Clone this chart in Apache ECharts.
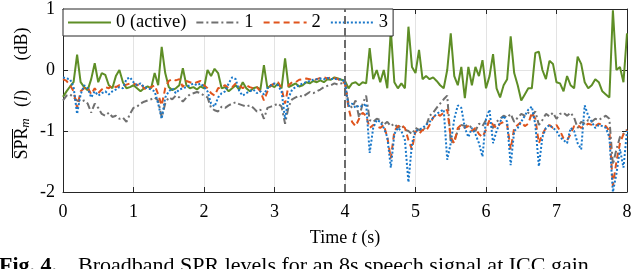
<!DOCTYPE html>
<html>
<head>
<meta charset="utf-8">
<script src="https://cdn.jsdelivr.net/npm/echarts@6/dist/echarts.min.js"></script>
<style>
html,body{margin:0;padding:0;background:#fff;}
#chart{width:640px;height:269px;}
</style>
</head>
<body>
<div id="chart"></div>
<script>
// Sampling of the time axis (s)
const timeStep = 0.05;
const xTicks = [0, 1, 2, 3, 4, 5, 6, 7, 8];
const yTicks = [-2, -1, 0, 1];
const seriesNames = ['0 (active)', '1', '2', '3'];
const changeTime = 4;

// Series values (dB), one value per 0.05 s from 0 to 8 s
const green = [
 -0.44,-0.35,-0.27,-0.2,0.25,-0.2,-0.28,-0.33,-0.15,0.11,-0.2,-0.05,-0.08,-0.25,-0.3,-0.1,0.0,-0.2,-0.3,-0.28,-0.25,
 -0.3,-0.35,-0.3,-0.27,-0.3,-0.05,-0.25,0.38,-0.05,-0.28,-0.33,-0.3,-0.25,0.03,-0.25,-0.3,-0.28,-0.32,-0.27,-0.3,
 0.0,-0.1,0.02,-0.05,-0.3,-0.28,-0.35,-0.3,-0.25,-0.32,-0.2,-0.3,-0.35,-0.3,-0.28,-0.32,0.08,-0.3,-0.25,-0.28,
 -0.22,-0.3,0.19,-0.28,-0.25,-0.22,-0.27,-0.25,-0.2,-0.22,-0.18,-0.2,-0.17,-0.2,-0.15,-0.16,-0.12,-0.14,-0.16,-0.18,
 -0.3,-0.22,-0.2,-0.25,-0.2,-0.22,0.36,-0.15,0.0,-0.2,0.0,-0.3,0.66,-0.2,-0.3,-0.22,-0.3,0.71,0.05,-0.05,
 0.33,-0.15,-0.1,-0.15,-0.12,-0.18,-0.25,-0.3,0.0,0.6,-0.1,-0.25,0.05,-0.46,0.05,-0.25,0.05,-0.1,0.16,-0.3,
 -0.1,0.26,-0.3,-0.45,-0.25,-0.15,0.55,-0.05,-0.25,-0.5,-0.4,-0.3,-0.3,0.28,0.3,0.0,-0.15,0.15,0.1,-0.2,
 -0.22,-0.35,-0.1,-0.25,-0.3,0.22,0.1,-0.2,-0.3,-0.25,-0.15,-0.2,-0.35,-0.4,-0.45,0.98,0.0,0.05,-0.2,0.6
];
const gray = [
 -0.5,-0.42,-0.4,-0.45,-0.5,-0.52,-0.5,-0.55,-0.7,-0.55,-0.62,-0.72,-0.75,-0.7,-0.77,-0.75,-0.8,-0.78,-0.85,-0.72,-0.62,
 -0.6,-0.55,-0.52,-0.5,-0.48,-0.45,-0.5,-0.78,-0.55,-0.45,-0.48,-0.42,-0.45,-0.52,-0.45,-0.4,-0.38,-0.36,-0.38,-0.42,
 -0.45,-0.62,-0.66,-0.68,-0.6,-0.62,-0.58,-0.55,-0.53,-0.56,-0.58,-0.6,-0.58,-0.62,-0.68,-0.65,-0.8,-0.62,-0.6,-0.58,
 -0.55,-0.6,-0.88,-0.6,-0.48,-0.45,-0.42,-0.44,-0.4,-0.36,-0.38,-0.35,-0.32,-0.28,-0.26,-0.25,-0.22,-0.24,-0.22,-0.2,
 -0.55,-0.62,-0.5,-0.78,-0.55,-0.42,-0.82,-0.85,-0.8,-0.82,-0.9,-0.85,-0.92,-0.88,-0.95,-0.9,-0.98,-1.0,-1.05,-0.95,
 -0.98,-1.0,-0.92,-0.75,-0.7,-0.62,-0.55,-0.48,-0.42,-1.2,-1.15,-1.0,-0.9,-0.92,-0.9,-0.95,-1.0,-0.88,-0.92,-0.82,
 -0.9,-0.95,-0.85,-0.8,-0.75,-0.78,-0.72,-0.85,-0.78,-0.72,-0.75,-0.7,-0.75,-0.68,-0.9,-0.82,-0.72,-0.76,-0.7,-0.8,
 -0.72,-0.7,-0.75,-0.7,-0.78,-0.95,-0.85,-0.88,-0.82,-0.85,-0.8,-0.82,-0.78,-0.75,-0.8,-1.55,-1.3,-1.1,-1.05,-0.98
];
const orange = [
 -0.15,-0.18,-0.25,-0.35,-0.62,-0.35,-0.3,-0.28,-0.4,-0.3,-0.38,-0.32,-0.28,-0.3,-0.25,-0.28,-0.25,-0.26,-0.24,-0.22,-0.22,
 -0.25,-0.22,-0.3,-0.33,-0.28,-0.25,-0.4,-0.58,-0.3,-0.18,-0.15,-0.17,-0.15,-0.28,-0.18,-0.2,-0.22,-0.2,-0.18,-0.25,
 -0.3,-0.38,-0.42,-0.3,-0.28,-0.25,-0.3,-0.28,-0.22,-0.25,-0.3,-0.25,-0.28,-0.3,-0.28,-0.35,-0.5,-0.35,-0.25,-0.22,
 -0.2,-0.3,-0.55,-0.25,-0.2,-0.2,-0.16,-0.15,-0.14,-0.15,-0.17,-0.15,-0.13,-0.12,-0.14,-0.12,-0.13,-0.15,-0.18,-0.22,
 -0.62,-0.85,-0.92,-0.8,-0.7,-0.75,-0.95,-0.9,-0.92,-0.95,-0.9,-1.1,-1.45,-1.0,-0.92,-0.9,-0.95,-1.15,-1.3,-1.0,
 -1.05,-0.98,-1.0,-0.9,-0.78,-0.72,-0.75,-0.7,-0.65,-1.1,-1.2,-0.95,-0.9,-0.95,-0.92,-1.0,-0.95,-1.05,-1.1,-0.98,
 -0.82,-0.9,-0.95,-0.88,-0.85,-0.9,-1.3,-0.95,-0.9,-0.85,-0.92,-0.88,-0.7,-0.8,-1.2,-1.05,-0.95,-0.9,-0.95,-0.9,
 -1.0,-1.12,-1.15,-1.05,-0.92,-0.9,-0.95,-0.92,-0.88,-0.9,-0.92,-0.88,-0.9,-0.92,-1.0,-1.9,-1.5,-1.2,-1.05,-0.98
];
const blue = [
 -0.12,-0.14,-0.15,-0.28,-0.72,-0.4,-0.25,-0.3,-0.45,-0.35,-0.42,-0.38,-0.35,-0.4,-0.35,-0.32,-0.28,-0.3,-0.15,-0.12,-0.2,
 -0.25,-0.22,-0.28,-0.3,-0.32,-0.35,-0.55,-0.8,-0.45,-0.35,-0.3,-0.38,-0.32,-0.3,-0.28,-0.25,-0.22,-0.25,-0.22,-0.28,
 -0.35,-0.55,-0.6,-0.45,-0.38,-0.35,-0.22,-0.12,-0.15,-0.35,-0.42,-0.38,-0.35,-0.32,-0.38,-0.35,-0.4,-0.3,-0.25,-0.22,
 -0.25,-0.35,-0.8,-0.45,-0.32,-0.28,-0.25,-0.22,-0.2,-0.18,-0.16,-0.15,-0.14,-0.15,-0.13,-0.15,-0.14,-0.16,-0.15,-0.2,
 -0.6,-0.55,-0.62,-0.58,-0.6,-0.55,-1.36,-0.95,-0.82,-0.85,-0.95,-1.1,-1.6,-1.05,-0.95,-1.0,-1.15,-1.84,-1.2,-1.0,
 -0.98,-0.95,-0.9,-0.85,-0.78,-0.72,-0.68,-0.65,-1.47,-1.2,-0.8,-0.58,-0.62,-0.95,-1.1,-0.95,-1.05,-1.2,-1.42,-0.8,
 -0.65,-1.2,-1.0,-0.85,-0.75,-0.85,-1.56,-1.0,-0.95,-0.85,-0.75,-0.65,-0.6,-0.9,-1.58,-1.1,-0.95,-0.9,-0.95,-1.0,
 -1.1,-1.15,-1.2,-0.95,-1.0,-1.2,-1.3,-0.58,-0.75,-0.85,-0.95,-0.9,-0.92,-0.95,-1.1,-2.0,-1.7,-1.3,-1.6,-1.0
];

const times = green.map((_, i) => +(i * timeStep).toFixed(2));
const pairs = arr => arr.map((v, i) => [times[i], v]);

const FONT = 'Liberation Serif';
const AX = '#262626';

const chart = echarts.init(document.getElementById('chart'), null, {renderer: 'canvas'});

const baseX = {
  type: 'value', min: xTicks[0], max: xTicks[xTicks.length - 1], interval: 1,
  axisLine: {show: true, onZero: false, lineStyle: {color: AX, width: 1}},
  axisTick: {show: true, inside: true, length: 5, lineStyle: {color: AX}},
};
const baseY = {
  type: 'value', min: yTicks[0], max: yTicks[yTicks.length - 1], interval: 1,
  axisLine: {show: true, onZero: false, lineStyle: {color: AX, width: 1}},
  axisTick: {show: true, inside: true, length: 5, lineStyle: {color: AX}},
};

const option = {
  animation: false,
  backgroundColor: '#fff',
  grid: {left: 63, right: 13, top: 9, bottom: 77, containLabel: false},
  legend: {
    data: seriesNames,
    left: 63, top: 9,
    itemWidth: 43, itemHeight: 14, itemGap: 9,
    padding: [4, 5, 4, 4],
    backgroundColor: '#fff',
    borderColor: AX, borderWidth: 1,
    itemStyle: {opacity: 0},
    textStyle: {fontFamily: FONT, fontSize: 18.5, color: '#000'}
  },
  xAxis: [
    Object.assign({}, baseX, {
      position: 'bottom',
      name: 'Time {i|t} (s)',
      nameLocation: 'middle', nameGap: 37,
      nameTextStyle: {fontFamily: FONT, fontSize: 18, color: '#000',
        rich: {i: {fontFamily: FONT, fontSize: 18, fontStyle: 'italic', color: '#000'}}},
      axisLabel: {fontFamily: FONT, fontSize: 18, color: '#000', margin: 11},
      splitLine: {show: true, lineStyle: {color: '#e3e3e3', width: 1}}
    }),
    Object.assign({}, baseX, {
      position: 'top',
      axisLabel: {show: false},
      splitLine: {show: false}
    })
  ],
  yAxis: [
    Object.assign({}, baseY, {
      position: 'left',
      axisLabel: {fontFamily: FONT, fontSize: 18, color: '#000', margin: 8},
      splitLine: {show: true, lineStyle: {color: '#e3e3e3', width: 1}}
    }),
    Object.assign({}, baseY, {
      position: 'right',
      axisLabel: {show: false},
      splitLine: {show: false}
    })
  ],
  graphic: [
    {type: 'text', x: 22, y: 143.5, rotation: Math.PI / 2,
      style: {text: 'SPR', font: '18px "Liberation Serif"', fill: '#000', align: 'center', verticalAlign: 'middle'}},
    {type: 'line', shape: {x1: 12.5, y1: 129, x2: 12.5, y2: 158}, style: {stroke: '#000', lineWidth: 1}},
    {type: 'text', x: 26, y: 123, rotation: Math.PI / 2,
      style: {text: 'm', font: 'italic 13px "Liberation Serif"', fill: '#000', align: 'center', verticalAlign: 'middle'}},
    {type: 'text', x: 22, y: 98.5, rotation: Math.PI / 2,
      style: {text: '({i|l})', font: '18px "Liberation Serif"', fill: '#000', align: 'center', verticalAlign: 'middle',
        rich: {i: {fontStyle: 'italic', fontFamily: FONT, fontSize: 18}}}},
    {type: 'text', x: 22, y: 44, rotation: Math.PI / 2,
      style: {text: '(dB)', font: '18px "Liberation Serif"', fill: '#000', align: 'center', verticalAlign: 'middle'}},
    {type: 'text', x: -1, y: 255,
      style: {text: 'Fig. 4.', font: 'bold 22px "Liberation Serif"', fill: '#000', align: 'left', verticalAlign: 'top'}},
    {type: 'text', x: 78, y: 255,
      style: {text: 'Broadband SPR levels for an 8s speech signal at ICC gain', font: '22px "Liberation Serif"', fill: '#000', align: 'left', verticalAlign: 'top'}}
  ],
  series: [
    {name: seriesNames[0], type: 'line', data: pairs(green), symbol: 'none', z: 2,
      lineStyle: {color: '#5E8E26', width: 2}, itemStyle: {color: '#5E8E26'},
      markLine: {silent: true, symbol: ['none', 'none'], label: {show: false},
        lineStyle: {color: '#6a6a6a', width: 2, type: [8, 4]},
        data: [{xAxis: changeTime}]}},
    {name: seriesNames[1], type: 'line', data: pairs(gray), symbol: 'none', z: 3,
      lineStyle: {color: '#707070', width: 2, type: [7, 3, 2, 3]}, itemStyle: {color: '#707070'}},
    {name: seriesNames[2], type: 'line', data: pairs(orange), symbol: 'none', z: 4,
      lineStyle: {color: '#E0541C', width: 2, type: [6, 4]}, itemStyle: {color: '#E0541C'}},
    {name: seriesNames[3], type: 'line', data: pairs(blue), symbol: 'none', z: 5,
      lineStyle: {color: '#1877C9', width: 2, type: [2, 2]}, itemStyle: {color: '#1877C9'}}
  ]
};
chart.setOption(option);
</script>
</body>
</html>
